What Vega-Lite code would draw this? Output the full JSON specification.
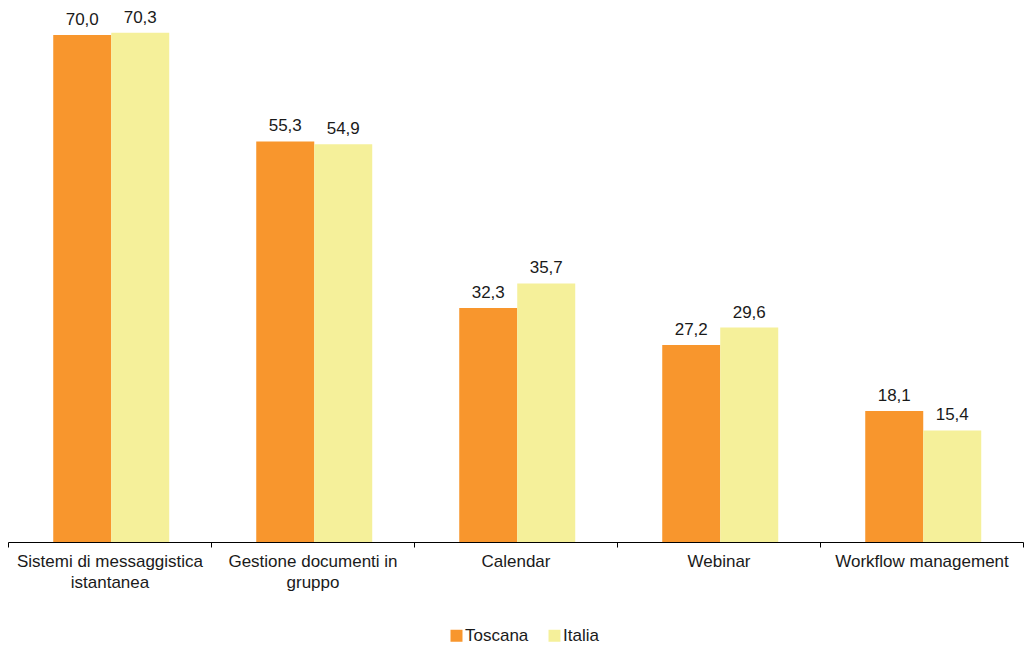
{
  "$schema": "https://vega.github.io/schema/vega-lite/v6.json",
  "autosize": "none",
  "width": 1015,
  "height": 542,
  "padding": {"left": 8, "top": 0, "right": 5, "bottom": 103},
  "background": "white",
  "config": {
    "view": {"stroke": null},
    "font": "Liberation Sans",
    "locale": {"number": {"decimal": ",", "thousands": ".", "grouping": [3], "currency": ["€", ""]}}
  },
  "data": {"values": [
    {"cat": "Sistemi di messaggistica istantanea", "serie": "Toscana", "v": 70.0},
    {"cat": "Sistemi di messaggistica istantanea", "serie": "Italia", "v": 70.3},
    {"cat": "Gestione documenti in gruppo", "serie": "Toscana", "v": 55.3},
    {"cat": "Gestione documenti in gruppo", "serie": "Italia", "v": 54.9},
    {"cat": "Calendar", "serie": "Toscana", "v": 32.3},
    {"cat": "Calendar", "serie": "Italia", "v": 35.7},
    {"cat": "Webinar", "serie": "Toscana", "v": 27.2},
    {"cat": "Webinar", "serie": "Italia", "v": 29.6},
    {"cat": "Workflow management", "serie": "Toscana", "v": 18.1},
    {"cat": "Workflow management", "serie": "Italia", "v": 15.4}
  ]},
  "encoding": {
    "x": {
      "field": "cat", "type": "nominal", "sort": null,
      "scale": {"paddingInner": 0, "paddingOuter": 0},
      "axis": {
        "title": null, "labelAngle": 0, "tickBand": "extent",
        "domainColor": "#000000", "tickColor": "#000000", "tickSize": 5,
        "labelFont": "Liberation Sans", "labelFontSize": 17, "labelColor": "#1a1a1a",
        "labelPadding": 6, "labelLineHeight": 21, "labelLimit": 400,
        "labelExpr": "datum.label == 'Sistemi di messaggistica istantanea' ? ['Sistemi di messaggistica', 'istantanea'] : datum.label == 'Gestione documenti in gruppo' ? ['Gestione documenti in', 'gruppo'] : datum.label"
      }
    },
    "xOffset": {"field": "serie", "type": "nominal", "sort": ["Toscana", "Italia"], "scale": {"paddingInner": 0, "paddingOuter": 0.75, "align": 0.52}},
    "y": {"field": "v", "type": "quantitative", "scale": {"domain": [0, 74.83], "nice": false}, "axis": null}
  },
  "layer": [
    {
      "mark": {"type": "bar"},
      "encoding": {
        "color": {
          "field": "serie", "type": "nominal", "sort": ["Toscana", "Italia"],
          "scale": {"domain": ["Toscana", "Italia"], "range": ["#F8962D", "#F5F09A"]},
          "legend": {
            "title": null, "orient": "none", "direction": "horizontal",
            "legendX": 440, "legendY": 627,
            "symbolType": "square", "symbolSize": 144, "symbolStrokeWidth": 0,
            "labelFont": "Liberation Sans", "labelFontSize": 17, "labelColor": "#1a1a1a",
            "labelOffset": 0, "columnPadding": 17
          }
        }
      }
    },
    {
      "mark": {"type": "text", "baseline": "alphabetic", "dy": -10, "fontSize": 17, "font": "Liberation Sans", "color": "#1a1a1a"},
      "encoding": {"text": {"field": "v", "type": "quantitative", "format": ".1f"}}
    }
  ]
}
